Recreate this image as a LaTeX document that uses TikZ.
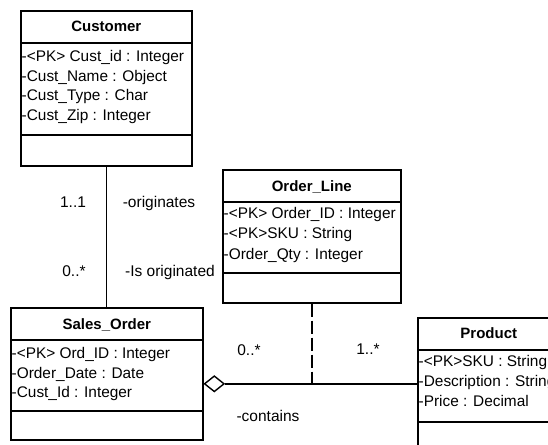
\documentclass[tikz,border=0pt]{standalone}
\usepackage{fontspec}
\setmainfont{Liberation Sans}
\usetikzlibrary{positioning,calc,shapes.geometric}
\tikzset{
  cls/.style  = {rectangle, draw, line width=1.6pt, inner sep=0pt,
                 anchor=north west},
  div/.style  = {line width=1.8pt},
  ttl/.style  = {font=\fontsize{15}{18}\selectfont\bfseries, inner sep=0pt,
                 anchor=base},
  att/.style  = {font=\fontsize{15.4}{19}\selectfont, inner sep=0pt,
                 anchor=base west},
  lbl/.style  = {font=\fontsize{15.5}{18}\selectfont, inner sep=0pt,
                 anchor=base},
  asc/.style  = {line width=1.4pt},
  dep/.style  = {line width=1.4pt, dash pattern=on 13pt off 4pt},
  agd/.style  = {diamond, draw, fill=white, line width=1.4pt,
                 minimum width=20pt, minimum height=16pt, inner sep=0pt,
                 anchor=west},
}

\begin{document}
\begin{tikzpicture}[x=1pt,y=-1pt]
  \useasboundingbox (0,0) rectangle (548,444);
  \clip (0,0) rectangle (548,444);
  % customer
  \node[cls, minimum width=171pt, minimum height=155pt] (cust) at (20,10) {};
  \draw[div] ([yshift=-33pt]cust.north west) -- ([yshift=-33pt]cust.north east);
  \draw[div] ([yshift=-125pt]cust.north west) -- ([yshift=-125pt]cust.north east);
  \node[ttl] (custT) at ([yshift=-22pt]cust.north) {Customer};
  \node[att] (cust1) at ([shift={(1.5pt,-51.5pt)}]cust.north west) {-<PK> Cust\_id : Integer};
  \node[att] (cust2) at ([shift={(1.5pt,-71pt)}]cust.north west) {-Cust\_Name : Object};
  \node[att] (cust3) at ([shift={(1.5pt,-90.5pt)}]cust.north west) {-Cust\_Type : Char};
  \node[att] (cust4) at ([shift={(1.5pt,-110pt)}]cust.north west) {-Cust\_Zip : Integer};
  % sales order
  \node[cls, minimum width=192pt, minimum height=132pt] (sord) at (10,307) {};
  \draw[div] ([yshift=-33pt]sord.north west) -- ([yshift=-33pt]sord.north east);
  \draw[div] ([yshift=-104pt]sord.north west) -- ([yshift=-104pt]sord.north east);
  \node[ttl] (sordT) at ([yshift=-22pt]sord.north) {Sales\_Order};
  \node[att] (sord1) at ([shift={(1.5pt,-51.5pt)}]sord.north west) {-<PK> Ord\_ID : Integer};
  \node[att] (sord2) at ([shift={(1.5pt,-71pt)}]sord.north west) {-Order\_Date : Date};
  \node[att] (sord3) at ([shift={(1.5pt,-90.5pt)}]sord.north west) {-Cust\_Id : Integer};
  % order line
  \node[cls, minimum width=178pt, minimum height=133pt] (oline) at (222,169) {};
  \draw[div] ([yshift=-33pt]oline.north west) -- ([yshift=-33pt]oline.north east);
  \draw[div] ([yshift=-104pt]oline.north west) -- ([yshift=-104pt]oline.north east);
  \node[ttl] (olineT) at ([yshift=-22pt]oline.north) {Order\_Line};
  \node[att] (oline1) at ([shift={(1.5pt,-49.5pt)}]oline.north west) {-<PK> Order\_ID : Integer};
  \node[att] (oline2) at ([shift={(1.5pt,-69.5pt)}]oline.north west) {-<PK>SKU : String};
  \node[att] (oline3) at ([shift={(1.5pt,-90pt)}]oline.north west) {-Order\_Qty : Integer};
  % product
  \node[cls, minimum width=142pt, minimum height=140pt] (prod) at (417,317) {};
  \draw[div] ([yshift=-33pt]prod.north west) -- ([yshift=-33pt]prod.north east);
  \draw[div] ([yshift=-105pt]prod.north west) -- ([yshift=-105pt]prod.north east);
  \node[ttl] (prodT) at ([yshift=-21pt]prod.north) {Product};
  \node[att] (prod1) at ([shift={(1.5pt,-49.5pt)}]prod.north west) {-<PK>SKU : String};
  \node[att] (prod2) at ([shift={(1.5pt,-69.5pt)}]prod.north west) {-Description : String};
  \node[att] (prod3) at ([shift={(1.5pt,-89.5pt)}]prod.north west) {-Price : Decimal};
  % associations
  \draw[asc] (cust.south) -- (cust.south |- sord.north);
  \node[agd] (agg) at ([yshift=-10pt]sord.east) {};
  \draw[asc] (agg.east) -- (agg.east -| prod.west);
  \draw[dep] (oline.south) -- (oline.south |- agg.east);
  % labels
  \node[lbl] (m11) at (73,207.5) {1..1};
  \node[lbl] (rorig) at (159,207.5) {-originates};
  \node[lbl] (m0n) at (74,276) {0..*};
  \node[lbl] (risor) at (170,276) {-Is originated};
  \node[lbl] (m0nb) at (249,355.5) {0..*};
  \node[lbl] (m1n) at (368,354.5) {1..*};
  \node[lbl] (rcont) at (268,421.5) {-contains};
\end{tikzpicture}
\end{document}
